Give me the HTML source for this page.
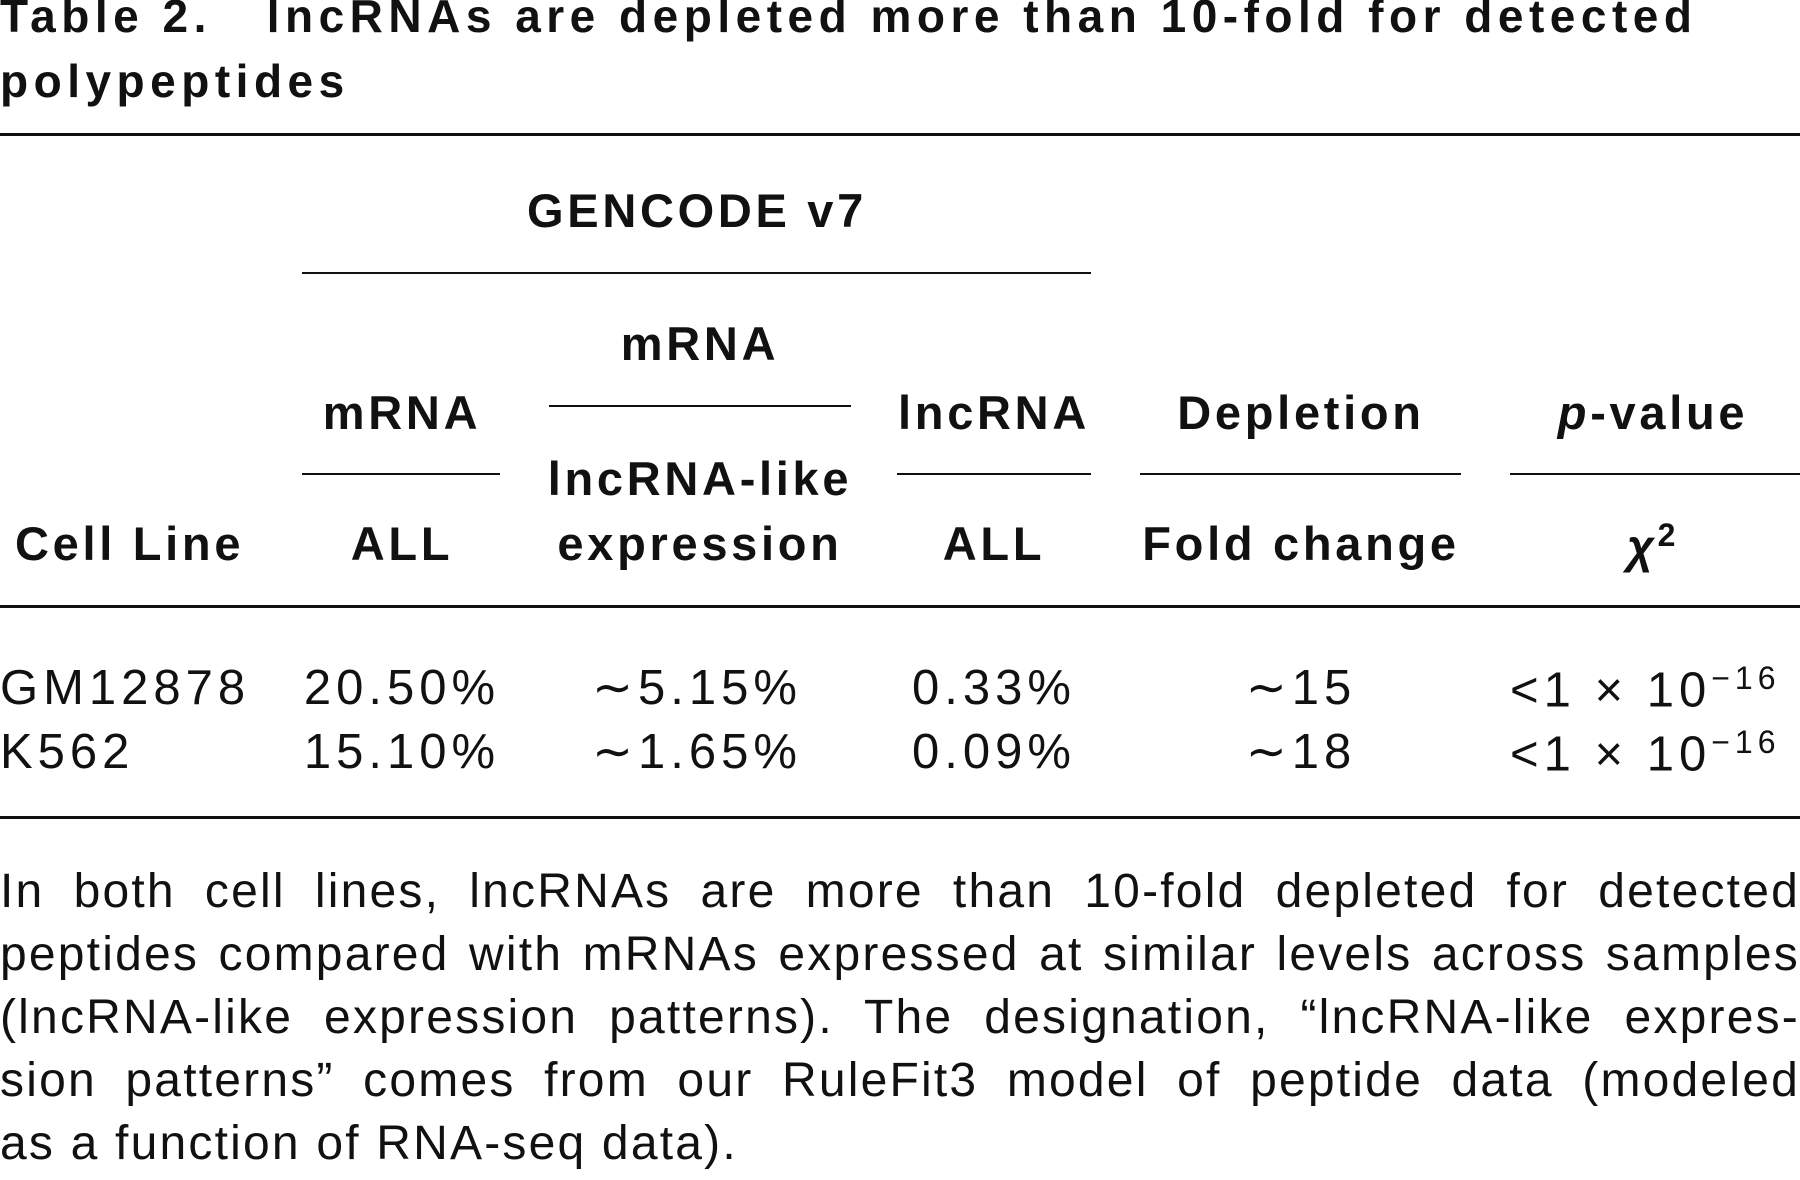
<!DOCTYPE html>
<html><head><meta charset="utf-8"><style>
body{margin:0;width:1800px;height:1180px;background:#fff;overflow:hidden;position:relative;font-family:"Liberation Sans",sans-serif;color:#111}
.t{position:absolute;white-space:nowrap;line-height:1.149}
.b{font-weight:bold;font-size:46px;letter-spacing:5.5px}
.h{font-weight:bold;font-size:47px;letter-spacing:3.7px}
.c{transform:translateX(-50%)}
.d{font-size:49px;letter-spacing:5px}
.r{position:absolute;height:3px;background:#111}
.p{position:absolute;left:0;width:1800px;font-size:48px;letter-spacing:2.2px;text-align:justify;text-align-last:justify;white-space:nowrap;line-height:1.149}
</style></head><body>
<div class="t b" style="left:0;top:-10px">Table 2.&nbsp;&nbsp;&nbsp;lncRNAs are depleted more than 10-fold for detected</div>
<div class="t b" style="left:0;top:55px">polypeptides</div>
<div class="r" style="left:0;top:133px;width:1800px"></div>

<div class="t h c" style="left:697px;top:184px">GENCODE v7</div>
<div class="r" style="left:302px;top:272px;width:789px;height:2px"></div>
<div class="t h c" style="left:700px;top:317px">mRNA</div>
<div class="r" style="left:549px;top:405px;width:302px;height:2px"></div>
<div class="t h c" style="left:402px;top:386px">mRNA</div>
<div class="t h c" style="left:994px;top:386px">lncRNA</div>
<div class="t h c" style="left:1301px;top:386px">Depletion</div>
<div class="t h c" style="left:1653px;top:386px"><i>p</i>-value</div>
<div class="r" style="left:302px;top:473px;width:198px;height:2px"></div>
<div class="r" style="left:897px;top:473px;width:194px;height:2px"></div>
<div class="r" style="left:1140px;top:473px;width:321px;height:2px"></div>
<div class="r" style="left:1510px;top:473px;width:290px;height:2px"></div>
<div class="t h c" style="left:700px;top:452px">lncRNA-like</div>
<div class="t h" style="left:15px;top:517px">Cell Line</div>
<div class="t h c" style="left:402px;top:517px">ALL</div>
<div class="t h c" style="left:700px;top:517px">expression</div>
<div class="t h c" style="left:994px;top:517px">ALL</div>
<div class="t h c" style="left:1301px;top:517px">Fold change</div>
<div class="t h c" style="left:1653px;top:517px"><i>χ</i><sup style="font-size:32px">2</sup></div>
<div class="r" style="left:0;top:605px;width:1800px"></div>

<div class="t d" style="left:0;top:660px">GM12878</div>
<div class="t d c" style="left:402px;top:660px">20.50%</div>
<div class="t d c" style="left:697px;top:660px">∼5.15%</div>
<div class="t d c" style="left:994px;top:660px">0.33%</div>
<div class="t d c" style="left:1301px;top:660px">∼15</div>
<div class="t d" style="left:1510px;top:660px">&lt;1 × 10<sup style="font-size:32px">−16</sup></div>
<div class="t d" style="left:0;top:724px">K562</div>
<div class="t d c" style="left:402px;top:724px">15.10%</div>
<div class="t d c" style="left:697px;top:724px">∼1.65%</div>
<div class="t d c" style="left:994px;top:724px">0.09%</div>
<div class="t d c" style="left:1301px;top:724px">∼18</div>
<div class="t d" style="left:1510px;top:724px">&lt;1 × 10<sup style="font-size:32px">−16</sup></div>
<div class="r" style="left:0;top:816px;width:1800px"></div>

<div class="p" style="top:864px">In both cell lines, lncRNAs are more than 10-fold depleted for detected</div>
<div class="p" style="top:927px">peptides compared with mRNAs expressed at similar levels across samples</div>
<div class="p" style="top:990px">(lncRNA-like expression patterns). The designation, “lncRNA-like expres-</div>
<div class="p" style="top:1053px">sion patterns” comes from our RuleFit3 model of peptide data (modeled</div>
<div class="p" style="top:1116px;text-align-last:left">as a function of RNA-seq data).</div>
</body></html>
